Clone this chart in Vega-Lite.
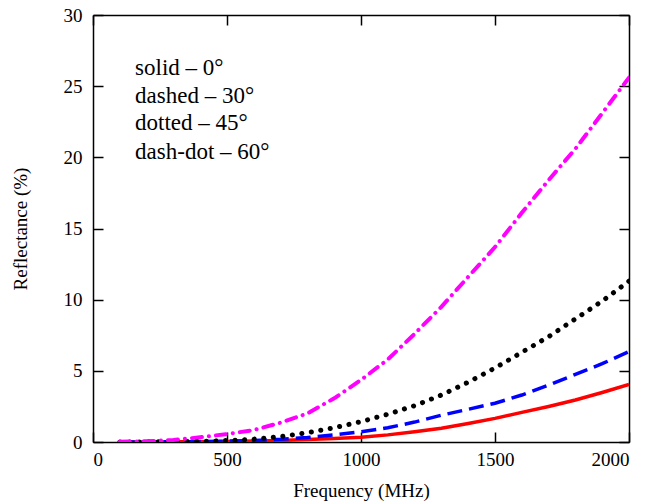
{
  "$schema": "https://vega.github.io/schema/vega-lite/v6.json",
  "autosize": "none",
  "width": 536,
  "height": 427,
  "padding": {"left": 93, "top": 15, "right": 37, "bottom": 62},
  "background": "white",
  "config": {
    "font": "Liberation Serif",
    "view": {"stroke": null},
    "axis": {
      "grid": false,
      "domainColor": "black",
      "domainWidth": 1.5,
      "tickColor": "black",
      "tickWidth": 1.5,
      "tickSize": -10,
      "labelFont": "Liberation Serif",
      "labelFontSize": 19,
      "labelColor": "black",
      "titleFont": "Liberation Serif",
      "titleFontSize": 19,
      "titleFontWeight": "normal",
      "titleColor": "black"
    }
  },
  "datasets": {
    "curves": [
      {"f": 100, "r": 0, "s": "0"}, {"f": 200, "r": 0.005, "s": "0"}, {"f": 300, "r": 0.01, "s": "0"}, {"f": 400, "r": 0.02, "s": "0"}, {"f": 500, "r": 0.04, "s": "0"}, {"f": 600, "r": 0.07, "s": "0"}, {"f": 700, "r": 0.11, "s": "0"}, {"f": 800, "r": 0.17, "s": "0"}, {"f": 900, "r": 0.25, "s": "0"}, {"f": 1000, "r": 0.33, "s": "0"}, {"f": 1100, "r": 0.5, "s": "0"}, {"f": 1200, "r": 0.72, "s": "0"}, {"f": 1300, "r": 0.97, "s": "0"}, {"f": 1400, "r": 1.3, "s": "0"}, {"f": 1500, "r": 1.66, "s": "0"}, {"f": 1600, "r": 2.08, "s": "0"}, {"f": 1700, "r": 2.5, "s": "0"}, {"f": 1800, "r": 2.95, "s": "0"}, {"f": 1900, "r": 3.48, "s": "0"}, {"f": 2000, "r": 4.05, "s": "0"},
      {"f": 100, "r": 0, "s": "30"}, {"f": 200, "r": 0.01, "s": "30"}, {"f": 300, "r": 0.02, "s": "30"}, {"f": 400, "r": 0.03, "s": "30"}, {"f": 500, "r": 0.06, "s": "30"}, {"f": 600, "r": 0.11, "s": "30"}, {"f": 700, "r": 0.19, "s": "30"}, {"f": 800, "r": 0.32, "s": "30"}, {"f": 900, "r": 0.5, "s": "30"}, {"f": 1000, "r": 0.72, "s": "30"}, {"f": 1100, "r": 1.0, "s": "30"}, {"f": 1200, "r": 1.4, "s": "30"}, {"f": 1300, "r": 1.88, "s": "30"}, {"f": 1400, "r": 2.3, "s": "30"}, {"f": 1500, "r": 2.72, "s": "30"}, {"f": 1600, "r": 3.3, "s": "30"}, {"f": 1700, "r": 4.0, "s": "30"}, {"f": 1800, "r": 4.75, "s": "30"}, {"f": 1900, "r": 5.5, "s": "30"}, {"f": 2000, "r": 6.35, "s": "30"},
      {"f": 100, "r": 0, "s": "45"}, {"f": 200, "r": 0.01, "s": "45"}, {"f": 300, "r": 0.02, "s": "45"}, {"f": 400, "r": 0.05, "s": "45"}, {"f": 500, "r": 0.1, "s": "45"}, {"f": 600, "r": 0.2, "s": "45"}, {"f": 700, "r": 0.38, "s": "45"}, {"f": 800, "r": 0.65, "s": "45"}, {"f": 900, "r": 1.0, "s": "45"}, {"f": 1000, "r": 1.43, "s": "45"}, {"f": 1100, "r": 1.95, "s": "45"}, {"f": 1200, "r": 2.55, "s": "45"}, {"f": 1300, "r": 3.3, "s": "45"}, {"f": 1400, "r": 4.2, "s": "45"}, {"f": 1500, "r": 5.2, "s": "45"}, {"f": 1600, "r": 6.3, "s": "45"}, {"f": 1700, "r": 7.4, "s": "45"}, {"f": 1800, "r": 8.65, "s": "45"}, {"f": 1900, "r": 9.9, "s": "45"}, {"f": 2000, "r": 11.3, "s": "45"},
      {"f": 100, "r": 0.02, "s": "60"}, {"f": 200, "r": 0.05, "s": "60"}, {"f": 300, "r": 0.14, "s": "60"}, {"f": 400, "r": 0.33, "s": "60"}, {"f": 500, "r": 0.56, "s": "60"}, {"f": 600, "r": 0.84, "s": "60"}, {"f": 700, "r": 1.36, "s": "60"}, {"f": 800, "r": 2.0, "s": "60"}, {"f": 900, "r": 3.07, "s": "60"}, {"f": 1000, "r": 4.36, "s": "60"}, {"f": 1100, "r": 5.8, "s": "60"}, {"f": 1200, "r": 7.6, "s": "60"}, {"f": 1300, "r": 9.5, "s": "60"}, {"f": 1400, "r": 11.6, "s": "60"}, {"f": 1500, "r": 13.7, "s": "60"}, {"f": 1600, "r": 16.1, "s": "60"}, {"f": 1700, "r": 18.4, "s": "60"}, {"f": 1800, "r": 20.6, "s": "60"}, {"f": 1900, "r": 23.1, "s": "60"}, {"f": 2000, "r": 25.6, "s": "60"}
    ],
    "notes": [
      {"f": 157, "r": 25.8, "t": "solid – 0°"},
      {"f": 157, "r": 23.8, "t": "dashed – 30°"},
      {"f": 157, "r": 21.9, "t": "dotted – 45°"},
      {"f": 157, "r": 19.9, "t": "dash-dot – 60°"}
    ]
  },
  "resolve": {"axis": {"x": "independent", "y": "independent"}},
  "layer": [
    {
      "layer": [
        {
          "data": {"name": "curves"},
          "transform": [{"filter": "datum.s === '0'"}],
          "mark": {"type": "line", "color": "#ff0000", "strokeWidth": 3.5, "clip": true},
          "encoding": {
            "x": {"field": "f", "type": "quantitative", "scale": {"domain": [0, 2000], "nice": false},
                  "axis": {"orient": "bottom", "values": [0, 500, 1000, 1500, 2000], "format": "d", "labelPadding": 18, "title": "Frequency (MHz)", "titlePadding": 12}},
            "y": {"field": "r", "type": "quantitative", "scale": {"domain": [0, 30], "nice": false},
                  "axis": {"orient": "left", "values": [0, 5, 10, 15, 20, 25, 30], "format": "d", "labelPadding": 21, "title": "Reflectance (%)", "titlePadding": 33}}
          }
        },
        {
          "data": {"name": "curves"},
          "transform": [{"filter": "datum.s === '30'"}],
          "mark": {"type": "line", "color": "#0000ff", "strokeWidth": 3.5, "strokeDash": [15, 7], "clip": true},
          "encoding": {
            "x": {"field": "f", "type": "quantitative"},
            "y": {"field": "r", "type": "quantitative"}
          }
        },
        {
          "data": {"name": "curves"},
          "transform": [{"filter": "datum.s === '45'"}],
          "mark": {"type": "line", "color": "#000000", "strokeWidth": 5, "strokeDash": [0.1, 9.5], "strokeCap": "round", "clip": true},
          "encoding": {
            "x": {"field": "f", "type": "quantitative"},
            "y": {"field": "r", "type": "quantitative"}
          }
        },
        {
          "data": {"name": "curves"},
          "transform": [{"filter": "datum.s === '60'"}],
          "mark": {"type": "line", "color": "#ff00ff", "strokeWidth": 4, "strokeDash": [10, 7, 0.1, 7], "strokeCap": "round", "clip": true},
          "encoding": {
            "x": {"field": "f", "type": "quantitative"},
            "y": {"field": "r", "type": "quantitative"}
          }
        }
      ]
    },
    {
      "data": {"name": "notes"},
      "mark": {"type": "text", "align": "left", "baseline": "alphabetic", "fontSize": 23, "font": "Liberation Serif", "color": "black"},
      "encoding": {
        "x": {"field": "f", "type": "quantitative", "scale": {"domain": [0, 2000], "nice": false},
              "axis": {"orient": "top", "values": [0, 500, 1000, 1500, 2000], "labels": false, "title": null}},
        "y": {"field": "r", "type": "quantitative", "scale": {"domain": [0, 30], "nice": false},
              "axis": {"orient": "right", "values": [0, 5, 10, 15, 20, 25, 30], "labels": false, "title": null}},
        "text": {"field": "t", "type": "nominal"}
      }
    }
  ]
}
